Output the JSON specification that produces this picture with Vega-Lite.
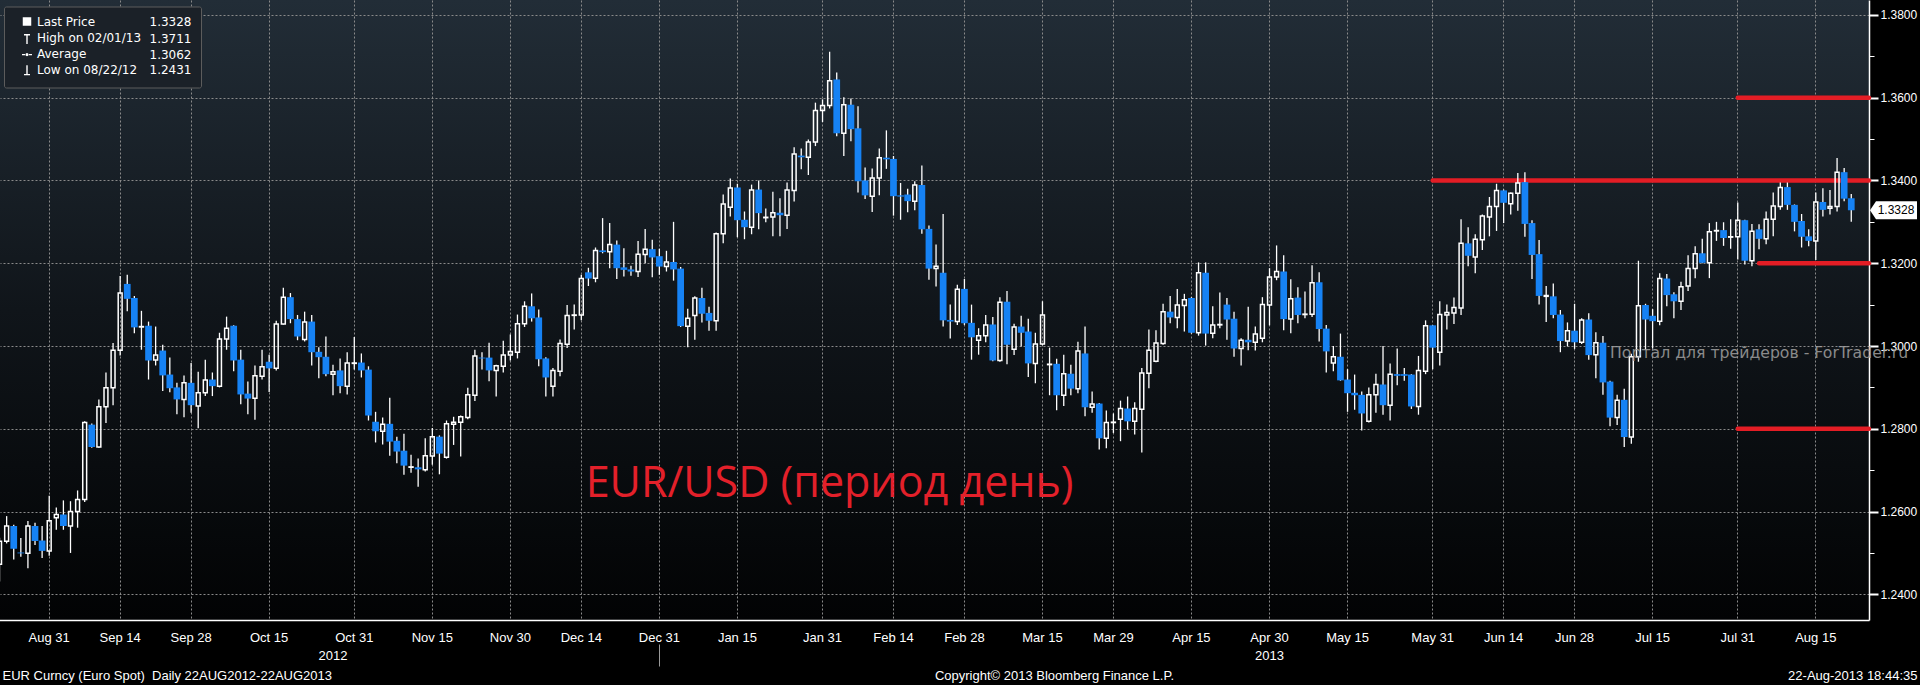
{
"$schema": "https://vega.github.io/schema/vega-lite/v6.json",
"width": 1869, "height": 620,
"autosize": {"type": "none"},
"padding": {"left": 0, "top": 0, "right": 51, "bottom": 65},
"background": "#000000",
"config": {
  "view": {"stroke": null, "fill": {"gradient": "linear", "x1": 0, "y1": 0, "x2": 0, "y2": 1, "stops": [{"offset": 0, "color": "#222d37"}, {"offset": 0.5, "color": "#10151a"}, {"offset": 1, "color": "#020304"}]}},
  "axis": {"labelFont": "Liberation Sans Narrow, Arial Narrow, Liberation Sans", "titleFont": "Liberation Sans Narrow, Arial Narrow, Liberation Sans", "titleFontWeight": "normal"}
},
"data": {"values": [
{"date":"2012-08-22","open":1.2473,"high":1.2537,"low":1.2431,"close":1.2528},
{"date":"2012-08-23","open":1.2528,"high":1.2589,"low":1.2523,"close":1.2565},
{"date":"2012-08-24","open":1.2565,"high":1.2568,"low":1.2484,"close":1.2510},
{"date":"2012-08-27","open":1.2501,"high":1.2536,"low":1.2491,"close":1.2499},
{"date":"2012-08-28","open":1.2499,"high":1.2577,"low":1.2463,"close":1.2565},
{"date":"2012-08-29","open":1.2565,"high":1.2573,"low":1.2519,"close":1.2529},
{"date":"2012-08-30","open":1.2530,"high":1.2565,"low":1.2488,"close":1.2505},
{"date":"2012-08-31","open":1.2505,"high":1.2638,"low":1.2493,"close":1.2578},
{"date":"2012-09-03","open":1.2585,"high":1.2610,"low":1.2556,"close":1.2593},
{"date":"2012-09-04","open":1.2593,"high":1.2627,"low":1.2556,"close":1.2565},
{"date":"2012-09-05","open":1.2565,"high":1.2625,"low":1.2500,"close":1.2600},
{"date":"2012-09-06","open":1.2600,"high":1.2651,"low":1.2561,"close":1.2629},
{"date":"2012-09-07","open":1.2629,"high":1.2818,"low":1.2623,"close":1.2815},
{"date":"2012-09-10","open":1.2810,"high":1.2813,"low":1.2754,"close":1.2756},
{"date":"2012-09-11","open":1.2756,"high":1.2871,"low":1.2754,"close":1.2853},
{"date":"2012-09-12","open":1.2853,"high":1.2936,"low":1.2814,"close":1.2899},
{"date":"2012-09-13","open":1.2899,"high":1.3007,"low":1.2857,"close":1.2990},
{"date":"2012-09-14","open":1.2990,"high":1.3169,"low":1.2977,"close":1.3128},
{"date":"2012-09-17","open":1.3150,"high":1.3172,"low":1.3084,"close":1.3114},
{"date":"2012-09-18","open":1.3116,"high":1.3121,"low":1.3031,"close":1.3045},
{"date":"2012-09-19","open":1.3046,"high":1.3085,"low":1.2991,"close":1.3047},
{"date":"2012-09-20","open":1.3049,"high":1.3059,"low":1.2919,"close":1.2965},
{"date":"2012-09-21","open":1.2966,"high":1.3047,"low":1.2953,"close":1.2978},
{"date":"2012-09-24","open":1.2989,"high":1.3003,"low":1.2891,"close":1.2929},
{"date":"2012-09-25","open":1.2931,"high":1.2972,"low":1.2888,"close":1.2898},
{"date":"2012-09-26","open":1.2900,"high":1.2911,"low":1.2835,"close":1.2871},
{"date":"2012-09-27","open":1.2871,"high":1.2929,"low":1.2828,"close":1.2911},
{"date":"2012-09-28","open":1.2911,"high":1.2959,"low":1.2839,"close":1.2857},
{"date":"2012-10-01","open":1.2855,"high":1.2938,"low":1.2801,"close":1.2887},
{"date":"2012-10-02","open":1.2887,"high":1.2967,"low":1.2879,"close":1.2918},
{"date":"2012-10-03","open":1.2919,"high":1.2936,"low":1.2879,"close":1.2903},
{"date":"2012-10-04","open":1.2903,"high":1.3032,"low":1.2900,"close":1.3017},
{"date":"2012-10-05","open":1.3017,"high":1.3071,"low":1.2991,"close":1.3043},
{"date":"2012-10-08","open":1.3049,"high":1.3050,"low":1.2939,"close":1.2965},
{"date":"2012-10-09","open":1.2967,"high":1.2991,"low":1.2859,"close":1.2883},
{"date":"2012-10-10","open":1.2885,"high":1.2914,"low":1.2835,"close":1.2873},
{"date":"2012-10-11","open":1.2874,"high":1.2953,"low":1.2822,"close":1.2928},
{"date":"2012-10-12","open":1.2927,"high":1.2991,"low":1.2919,"close":1.2950},
{"date":"2012-10-15","open":1.2962,"high":1.2979,"low":1.2889,"close":1.2946},
{"date":"2012-10-16","open":1.2946,"high":1.3061,"low":1.2941,"close":1.3053},
{"date":"2012-10-17","open":1.3053,"high":1.3141,"low":1.3052,"close":1.3118},
{"date":"2012-10-18","open":1.3118,"high":1.3128,"low":1.3055,"close":1.3065},
{"date":"2012-10-19","open":1.3065,"high":1.3075,"low":1.3014,"close":1.3023},
{"date":"2012-10-22","open":1.3016,"high":1.3083,"low":1.3011,"close":1.3058},
{"date":"2012-10-23","open":1.3059,"high":1.3075,"low":1.2953,"close":1.2985},
{"date":"2012-10-24","open":1.2986,"high":1.2997,"low":1.2922,"close":1.2973},
{"date":"2012-10-25","open":1.2974,"high":1.3023,"low":1.2927,"close":1.2932},
{"date":"2012-10-26","open":1.2932,"high":1.2955,"low":1.2881,"close":1.2938},
{"date":"2012-10-29","open":1.2941,"high":1.2970,"low":1.2886,"close":1.2903},
{"date":"2012-10-30","open":1.2903,"high":1.2985,"low":1.2883,"close":1.2959},
{"date":"2012-10-31","open":1.2958,"high":1.3022,"low":1.2943,"close":1.2959},
{"date":"2012-11-01","open":1.2960,"high":1.2982,"low":1.2924,"close":1.2941},
{"date":"2012-11-02","open":1.2943,"high":1.2951,"low":1.2820,"close":1.2832},
{"date":"2012-11-05","open":1.2817,"high":1.2841,"low":1.2767,"close":1.2794},
{"date":"2012-11-06","open":1.2794,"high":1.2827,"low":1.2762,"close":1.2811},
{"date":"2012-11-07","open":1.2812,"high":1.2875,"low":1.2735,"close":1.2769},
{"date":"2012-11-08","open":1.2771,"high":1.2781,"low":1.2717,"close":1.2745},
{"date":"2012-11-09","open":1.2747,"high":1.2788,"low":1.2689,"close":1.2711},
{"date":"2012-11-12","open":1.2707,"high":1.2737,"low":1.2694,"close":1.2708},
{"date":"2012-11-13","open":1.2707,"high":1.2728,"low":1.2660,"close":1.2702},
{"date":"2012-11-14","open":1.2701,"high":1.2777,"low":1.2697,"close":1.2735},
{"date":"2012-11-15","open":1.2734,"high":1.2802,"low":1.2713,"close":1.2781},
{"date":"2012-11-16","open":1.2781,"high":1.2784,"low":1.2690,"close":1.2740},
{"date":"2012-11-19","open":1.2731,"high":1.2820,"low":1.2728,"close":1.2812},
{"date":"2012-11-20","open":1.2811,"high":1.2829,"low":1.2761,"close":1.2816},
{"date":"2012-11-21","open":1.2816,"high":1.2832,"low":1.2733,"close":1.2829},
{"date":"2012-11-22","open":1.2827,"high":1.2899,"low":1.2823,"close":1.2882},
{"date":"2012-11-23","open":1.2881,"high":1.2991,"low":1.2867,"close":1.2976},
{"date":"2012-11-26","open":1.2972,"high":1.2985,"low":1.2943,"close":1.2970},
{"date":"2012-11-27","open":1.2972,"high":1.3008,"low":1.2915,"close":1.2941},
{"date":"2012-11-28","open":1.2941,"high":1.2955,"low":1.2878,"close":1.2952},
{"date":"2012-11-29","open":1.2951,"high":1.3013,"low":1.2936,"close":1.2978},
{"date":"2012-11-30","open":1.2978,"high":1.3028,"low":1.2965,"close":1.2987},
{"date":"2012-12-03","open":1.2985,"high":1.3076,"low":1.2970,"close":1.3054},
{"date":"2012-12-04","open":1.3054,"high":1.3108,"low":1.3046,"close":1.3096},
{"date":"2012-12-05","open":1.3096,"high":1.3127,"low":1.3059,"close":1.3067},
{"date":"2012-12-06","open":1.3069,"high":1.3088,"low":1.2951,"close":1.2968},
{"date":"2012-12-07","open":1.2970,"high":1.2973,"low":1.2878,"close":1.2924},
{"date":"2012-12-10","open":1.2903,"high":1.2947,"low":1.2878,"close":1.2941},
{"date":"2012-12-11","open":1.2939,"high":1.3016,"low":1.2927,"close":1.3006},
{"date":"2012-12-12","open":1.3004,"high":1.3099,"low":1.2995,"close":1.3074},
{"date":"2012-12-13","open":1.3074,"high":1.3100,"low":1.3040,"close":1.3075},
{"date":"2012-12-14","open":1.3075,"high":1.3172,"low":1.3062,"close":1.3163},
{"date":"2012-12-17","open":1.3178,"high":1.3189,"low":1.3145,"close":1.3163},
{"date":"2012-12-18","open":1.3164,"high":1.3238,"low":1.3154,"close":1.3231},
{"date":"2012-12-19","open":1.3231,"high":1.3309,"low":1.3224,"close":1.3227},
{"date":"2012-12-20","open":1.3228,"high":1.3297,"low":1.3188,"close":1.3245},
{"date":"2012-12-21","open":1.3245,"high":1.3255,"low":1.3162,"close":1.3188},
{"date":"2012-12-24","open":1.3190,"high":1.3236,"low":1.3168,"close":1.3184},
{"date":"2012-12-25","open":1.3185,"high":1.3194,"low":1.3170,"close":1.3180},
{"date":"2012-12-26","open":1.3180,"high":1.3254,"low":1.3167,"close":1.3222},
{"date":"2012-12-27","open":1.3221,"high":1.3283,"low":1.3200,"close":1.3234},
{"date":"2012-12-28","open":1.3234,"high":1.3257,"low":1.3166,"close":1.3214},
{"date":"2012-12-31","open":1.3217,"high":1.3235,"low":1.3172,"close":1.3192},
{"date":"2013-01-01","open":1.3192,"high":1.3230,"low":1.3180,"close":1.3203},
{"date":"2013-01-02","open":1.3203,"high":1.3300,"low":1.3158,"close":1.3185},
{"date":"2013-01-03","open":1.3187,"high":1.3191,"low":1.3046,"close":1.3048},
{"date":"2013-01-04","open":1.3048,"high":1.3090,"low":1.2997,"close":1.3067},
{"date":"2013-01-07","open":1.3074,"high":1.3120,"low":1.3015,"close":1.3116},
{"date":"2013-01-08","open":1.3116,"high":1.3141,"low":1.3057,"close":1.3078},
{"date":"2013-01-09","open":1.3080,"high":1.3095,"low":1.3037,"close":1.3061},
{"date":"2013-01-10","open":1.3061,"high":1.3274,"low":1.3037,"close":1.3271},
{"date":"2013-01-11","open":1.3271,"high":1.3366,"low":1.3248,"close":1.3343},
{"date":"2013-01-14","open":1.3335,"high":1.3405,"low":1.3313,"close":1.3382},
{"date":"2013-01-15","open":1.3383,"high":1.3392,"low":1.3263,"close":1.3304},
{"date":"2013-01-16","open":1.3305,"high":1.3325,"low":1.3258,"close":1.3287},
{"date":"2013-01-17","open":1.3287,"high":1.3390,"low":1.3270,"close":1.3377},
{"date":"2013-01-18","open":1.3378,"high":1.3400,"low":1.3282,"close":1.3321},
{"date":"2013-01-21","open":1.3310,"high":1.3332,"low":1.3299,"close":1.3311},
{"date":"2013-01-22","open":1.3312,"high":1.3373,"low":1.3265,"close":1.3322},
{"date":"2013-01-23","open":1.3322,"high":1.3357,"low":1.3265,"close":1.3316},
{"date":"2013-01-24","open":1.3316,"high":1.3395,"low":1.3283,"close":1.3377},
{"date":"2013-01-25","open":1.3376,"high":1.3480,"low":1.3349,"close":1.3464},
{"date":"2013-01-28","open":1.3460,"high":1.3477,"low":1.3427,"close":1.3456},
{"date":"2013-01-29","open":1.3456,"high":1.3499,"low":1.3413,"close":1.3493},
{"date":"2013-01-30","open":1.3493,"high":1.3588,"low":1.3483,"close":1.3569},
{"date":"2013-01-31","open":1.3569,"high":1.3596,"low":1.3541,"close":1.3581},
{"date":"2013-02-01","open":1.3581,"high":1.3711,"low":1.3574,"close":1.3641},
{"date":"2013-02-04","open":1.3644,"high":1.3661,"low":1.3507,"close":1.3514},
{"date":"2013-02-05","open":1.3514,"high":1.3601,"low":1.3459,"close":1.3583},
{"date":"2013-02-06","open":1.3583,"high":1.3598,"low":1.3495,"close":1.3524},
{"date":"2013-02-07","open":1.3526,"high":1.3579,"low":1.3371,"close":1.3398},
{"date":"2013-02-08","open":1.3400,"high":1.3431,"low":1.3355,"close":1.3364},
{"date":"2013-02-11","open":1.3362,"high":1.3429,"low":1.3324,"close":1.3406},
{"date":"2013-02-12","open":1.3406,"high":1.3477,"low":1.3364,"close":1.3455},
{"date":"2013-02-13","open":1.3455,"high":1.3521,"low":1.3428,"close":1.3451},
{"date":"2013-02-14","open":1.3452,"high":1.3459,"low":1.3315,"close":1.3362},
{"date":"2013-02-15","open":1.3364,"high":1.3394,"low":1.3305,"close":1.3361},
{"date":"2013-02-18","open":1.3366,"high":1.3380,"low":1.3323,"close":1.3350},
{"date":"2013-02-19","open":1.3350,"high":1.3398,"low":1.3328,"close":1.3389},
{"date":"2013-02-20","open":1.3389,"high":1.3436,"low":1.3271,"close":1.3282},
{"date":"2013-02-21","open":1.3283,"high":1.3291,"low":1.3160,"close":1.3187},
{"date":"2013-02-22","open":1.3187,"high":1.3245,"low":1.3144,"close":1.3193},
{"date":"2013-02-25","open":1.3177,"high":1.3319,"low":1.3047,"close":1.3062},
{"date":"2013-02-26","open":1.3063,"high":1.3100,"low":1.3018,"close":1.3059},
{"date":"2013-02-27","open":1.3059,"high":1.3148,"low":1.3051,"close":1.3137},
{"date":"2013-02-28","open":1.3138,"high":1.3162,"low":1.3051,"close":1.3055},
{"date":"2013-03-01","open":1.3056,"high":1.3100,"low":1.2967,"close":1.3021},
{"date":"2013-03-04","open":1.3014,"high":1.3043,"low":1.2979,"close":1.3025},
{"date":"2013-03-05","open":1.3025,"high":1.3075,"low":1.3009,"close":1.3051},
{"date":"2013-03-06","open":1.3052,"high":1.3070,"low":1.2963,"close":1.2965},
{"date":"2013-03-07","open":1.2965,"high":1.3118,"low":1.2962,"close":1.3106},
{"date":"2013-03-08","open":1.3107,"high":1.3133,"low":1.2956,"close":1.3003},
{"date":"2013-03-11","open":1.2992,"high":1.3054,"low":1.2978,"close":1.3046},
{"date":"2013-03-12","open":1.3047,"high":1.3073,"low":1.2999,"close":1.3032},
{"date":"2013-03-13","open":1.3035,"high":1.3066,"low":1.2925,"close":1.2958},
{"date":"2013-03-14","open":1.2958,"high":1.3032,"low":1.2910,"close":1.3005},
{"date":"2013-03-15","open":1.3005,"high":1.3108,"low":1.3002,"close":1.3075},
{"date":"2013-03-18","open":1.2955,"high":1.2996,"low":1.2881,"close":1.2956},
{"date":"2013-03-19","open":1.2957,"high":1.2969,"low":1.2845,"close":1.2881},
{"date":"2013-03-20","open":1.2881,"high":1.2979,"low":1.2855,"close":1.2933},
{"date":"2013-03-21","open":1.2933,"high":1.2955,"low":1.2881,"close":1.2897},
{"date":"2013-03-22","open":1.2897,"high":1.3010,"low":1.2886,"close":1.2988},
{"date":"2013-03-25","open":1.2982,"high":1.3047,"low":1.2830,"close":1.2852},
{"date":"2013-03-26","open":1.2852,"high":1.2890,"low":1.2839,"close":1.2860},
{"date":"2013-03-27","open":1.2861,"high":1.2862,"low":1.2750,"close":1.2777},
{"date":"2013-03-28","open":1.2777,"high":1.2844,"low":1.2753,"close":1.2815},
{"date":"2013-03-29","open":1.2815,"high":1.2837,"low":1.2790,"close":1.2816},
{"date":"2013-04-01","open":1.2823,"high":1.2868,"low":1.2770,"close":1.2849},
{"date":"2013-04-02","open":1.2849,"high":1.2878,"low":1.2798,"close":1.2818},
{"date":"2013-04-03","open":1.2818,"high":1.2864,"low":1.2786,"close":1.2849},
{"date":"2013-04-04","open":1.2847,"high":1.2947,"low":1.2743,"close":1.2935},
{"date":"2013-04-05","open":1.2934,"high":1.3040,"low":1.2898,"close":1.2990},
{"date":"2013-04-08","open":1.2963,"high":1.3038,"low":1.2961,"close":1.3007},
{"date":"2013-04-09","open":1.3006,"high":1.3102,"low":1.3003,"close":1.3083},
{"date":"2013-04-10","open":1.3083,"high":1.3121,"low":1.3055,"close":1.3069},
{"date":"2013-04-11","open":1.3069,"high":1.3138,"low":1.3043,"close":1.3099},
{"date":"2013-04-12","open":1.3098,"high":1.3126,"low":1.3035,"close":1.3112},
{"date":"2013-04-15","open":1.3116,"high":1.3118,"low":1.3030,"close":1.3032},
{"date":"2013-04-16","open":1.3032,"high":1.3202,"low":1.3025,"close":1.3177},
{"date":"2013-04-17","open":1.3177,"high":1.3202,"low":1.3001,"close":1.3030},
{"date":"2013-04-18","open":1.3031,"high":1.3096,"low":1.3019,"close":1.3051},
{"date":"2013-04-19","open":1.3051,"high":1.3129,"low":1.3043,"close":1.3052},
{"date":"2013-04-22","open":1.3100,"high":1.3116,"low":1.3015,"close":1.3064},
{"date":"2013-04-23","open":1.3066,"high":1.3083,"low":1.2974,"close":1.2994},
{"date":"2013-04-24","open":1.2994,"high":1.3019,"low":1.2953,"close":1.3014},
{"date":"2013-04-25","open":1.3015,"high":1.3095,"low":1.2990,"close":1.3009},
{"date":"2013-04-26","open":1.3009,"high":1.3047,"low":1.2989,"close":1.3029},
{"date":"2013-04-29","open":1.3019,"high":1.3118,"low":1.3009,"close":1.3100},
{"date":"2013-04-30","open":1.3099,"high":1.3188,"low":1.3050,"close":1.3167},
{"date":"2013-05-01","open":1.3167,"high":1.3243,"low":1.3159,"close":1.3180},
{"date":"2013-05-02","open":1.3180,"high":1.3219,"low":1.3038,"close":1.3065},
{"date":"2013-05-03","open":1.3065,"high":1.3161,"low":1.3031,"close":1.3114},
{"date":"2013-05-06","open":1.3117,"high":1.3142,"low":1.3055,"close":1.3075},
{"date":"2013-05-07","open":1.3076,"high":1.3132,"low":1.3067,"close":1.3077},
{"date":"2013-05-08","open":1.3077,"high":1.3195,"low":1.3070,"close":1.3153},
{"date":"2013-05-09","open":1.3154,"high":1.3178,"low":1.3011,"close":1.3041},
{"date":"2013-05-10","open":1.3042,"high":1.3051,"low":1.2936,"close":1.2987},
{"date":"2013-05-13","open":1.2959,"high":1.3000,"low":1.2939,"close":1.2974},
{"date":"2013-05-14","open":1.2974,"high":1.3030,"low":1.2916,"close":1.2917},
{"date":"2013-05-15","open":1.2919,"high":1.2944,"low":1.2841,"close":1.2886},
{"date":"2013-05-16","open":1.2887,"high":1.2931,"low":1.2846,"close":1.2881},
{"date":"2013-05-17","open":1.2882,"high":1.2890,"low":1.2796,"close":1.2837},
{"date":"2013-05-20","open":1.2818,"high":1.2900,"low":1.2815,"close":1.2882},
{"date":"2013-05-21","open":1.2882,"high":1.2933,"low":1.2839,"close":1.2907},
{"date":"2013-05-22","open":1.2907,"high":1.3000,"low":1.2834,"close":1.2857},
{"date":"2013-05-23","open":1.2857,"high":1.2958,"low":1.2820,"close":1.2932},
{"date":"2013-05-24","open":1.2932,"high":1.2994,"low":1.2905,"close":1.2928},
{"date":"2013-05-27","open":1.2932,"high":1.2947,"low":1.2916,"close":1.2928},
{"date":"2013-05-28","open":1.2931,"high":1.2932,"low":1.2848,"close":1.2854},
{"date":"2013-05-29","open":1.2854,"high":1.2976,"low":1.2834,"close":1.2941},
{"date":"2013-05-30","open":1.2939,"high":1.3062,"low":1.2932,"close":1.3049},
{"date":"2013-05-31","open":1.3050,"high":1.3051,"low":1.2944,"close":1.2996},
{"date":"2013-06-03","open":1.2985,"high":1.3108,"low":1.2953,"close":1.3076},
{"date":"2013-06-04","open":1.3075,"high":1.3100,"low":1.3040,"close":1.3081},
{"date":"2013-06-05","open":1.3080,"high":1.3117,"low":1.3053,"close":1.3093},
{"date":"2013-06-06","open":1.3092,"high":1.3306,"low":1.3075,"close":1.3248},
{"date":"2013-06-07","open":1.3248,"high":1.3287,"low":1.3193,"close":1.3218},
{"date":"2013-06-10","open":1.3215,"high":1.3270,"low":1.3176,"close":1.3258},
{"date":"2013-06-11","open":1.3257,"high":1.3318,"low":1.3232,"close":1.3314},
{"date":"2013-06-12","open":1.3312,"high":1.3360,"low":1.3265,"close":1.3337},
{"date":"2013-06-13","open":1.3337,"high":1.3392,"low":1.3278,"close":1.3376},
{"date":"2013-06-14","open":1.3376,"high":1.3378,"low":1.3297,"close":1.3346},
{"date":"2013-06-17","open":1.3344,"high":1.3371,"low":1.3318,"close":1.3369},
{"date":"2013-06-18","open":1.3369,"high":1.3418,"low":1.3327,"close":1.3394},
{"date":"2013-06-19","open":1.3396,"high":1.3420,"low":1.3264,"close":1.3295},
{"date":"2013-06-20","open":1.3297,"high":1.3304,"low":1.3162,"close":1.3220},
{"date":"2013-06-21","open":1.3222,"high":1.3256,"low":1.3100,"close":1.3121},
{"date":"2013-06-24","open":1.3120,"high":1.3145,"low":1.3058,"close":1.3122},
{"date":"2013-06-25","open":1.3120,"high":1.3151,"low":1.3067,"close":1.3075},
{"date":"2013-06-26","open":1.3076,"high":1.3087,"low":1.2985,"close":1.3012},
{"date":"2013-06-27","open":1.3012,"high":1.3057,"low":1.2999,"close":1.3037},
{"date":"2013-06-28","open":1.3037,"high":1.3102,"low":1.2993,"close":1.3009},
{"date":"2013-07-01","open":1.3009,"high":1.3067,"low":1.3005,"close":1.3063},
{"date":"2013-07-02","open":1.3064,"high":1.3079,"low":1.2967,"close":1.2978},
{"date":"2013-07-03","open":1.2979,"high":1.3033,"low":1.2922,"close":1.3008},
{"date":"2013-07-04","open":1.3008,"high":1.3024,"low":1.2882,"close":1.2912},
{"date":"2013-07-05","open":1.2914,"high":1.2916,"low":1.2806,"close":1.2827},
{"date":"2013-07-08","open":1.2827,"high":1.2882,"low":1.2809,"close":1.2869},
{"date":"2013-07-09","open":1.2870,"high":1.2897,"low":1.2756,"close":1.2780},
{"date":"2013-07-10","open":1.2780,"high":1.2981,"low":1.2764,"close":1.2974},
{"date":"2013-07-11","open":1.2974,"high":1.3206,"low":1.2962,"close":1.3097},
{"date":"2013-07-12","open":1.3099,"high":1.3102,"low":1.2991,"close":1.3064},
{"date":"2013-07-15","open":1.3073,"high":1.3089,"low":1.2994,"close":1.3060},
{"date":"2013-07-16","open":1.3060,"high":1.3176,"low":1.3050,"close":1.3163},
{"date":"2013-07-17","open":1.3163,"high":1.3174,"low":1.3096,"close":1.3123},
{"date":"2013-07-18","open":1.3125,"high":1.3130,"low":1.3067,"close":1.3108},
{"date":"2013-07-19","open":1.3108,"high":1.3155,"low":1.3087,"close":1.3143},
{"date":"2013-07-22","open":1.3145,"high":1.3219,"low":1.3133,"close":1.3187},
{"date":"2013-07-23","open":1.3187,"high":1.3241,"low":1.3164,"close":1.3223},
{"date":"2013-07-24","open":1.3224,"high":1.3259,"low":1.3200,"close":1.3201},
{"date":"2013-07-25","open":1.3201,"high":1.3297,"low":1.3164,"close":1.3276},
{"date":"2013-07-26","open":1.3278,"high":1.3300,"low":1.3254,"close":1.3279},
{"date":"2013-07-29","open":1.3280,"high":1.3299,"low":1.3242,"close":1.3261},
{"date":"2013-07-30","open":1.3263,"high":1.3306,"low":1.3235,"close":1.3264},
{"date":"2013-07-31","open":1.3264,"high":1.3347,"low":1.3209,"close":1.3304},
{"date":"2013-08-01","open":1.3304,"high":1.3305,"low":1.3197,"close":1.3206},
{"date":"2013-08-02","open":1.3206,"high":1.3295,"low":1.3193,"close":1.3277},
{"date":"2013-08-05","open":1.3282,"high":1.3294,"low":1.3234,"close":1.3259},
{"date":"2013-08-06","open":1.3259,"high":1.3325,"low":1.3246,"close":1.3306},
{"date":"2013-08-07","open":1.3306,"high":1.3371,"low":1.3265,"close":1.3338},
{"date":"2013-08-08","open":1.3337,"high":1.3395,"low":1.3329,"close":1.3383},
{"date":"2013-08-09","open":1.3384,"high":1.3395,"low":1.3329,"close":1.3341},
{"date":"2013-08-12","open":1.3341,"high":1.3342,"low":1.3277,"close":1.3300},
{"date":"2013-08-13","open":1.3302,"high":1.3319,"low":1.3238,"close":1.3264},
{"date":"2013-08-14","open":1.3265,"high":1.3282,"low":1.3241,"close":1.3254},
{"date":"2013-08-15","open":1.3254,"high":1.3371,"low":1.3208,"close":1.3348},
{"date":"2013-08-16","open":1.3348,"high":1.3381,"low":1.3313,"close":1.3329},
{"date":"2013-08-19","open":1.3333,"high":1.3377,"low":1.3318,"close":1.3337},
{"date":"2013-08-20","open":1.3337,"high":1.3454,"low":1.3325,"close":1.3420},
{"date":"2013-08-21","open":1.3420,"high":1.3430,"low":1.3350,"close":1.3356},
{"date":"2013-08-22","open":1.3357,"high":1.3367,"low":1.3300,"close":1.3328}
]},
"resolve": {"axis": {"x": "independent", "y": "independent"}},
"layer": [
{
  "data": {"values": [
    {"start": "2013-07-31", "level": 1.36},
    {"start": "2013-05-31", "level": 1.34},
    {"start": "2013-08-05", "level": 1.32},
    {"start": "2013-07-31", "level": 1.28}
  ]},
  "mark": {"type": "rule", "color": "#e31d25", "strokeWidth": 4.5, "strokeCap": "round"},
  "encoding": {
    "x": {"field": "start", "type": "ordinal", "axis": null},
    "x2": {"value": "width"},
    "y": {"field": "level", "type": "quantitative", "axis": null}
  }
},
{
  "transform": [{"filter": "datum.close < datum.open"}],
  "mark": {"type": "rule", "color": "#ffffff", "strokeWidth": 1.3},
  "encoding": {
    "x": {"field": "date", "type": "ordinal",
      "scale": {"type": "band", "paddingInner": 0, "paddingOuter": 1.575, "align": 0, "range": [-4, 1869]},
      "axis": {
        "orient": "bottom",
        "values": ["2012-08-31","2012-09-14","2012-09-28","2012-10-15","2012-10-31","2012-11-15","2012-11-30","2012-12-14","2012-12-31","2013-01-15","2013-01-31","2013-02-14","2013-02-28","2013-03-15","2013-03-29","2013-04-15","2013-04-30","2013-05-15","2013-05-31","2013-06-14","2013-06-28","2013-07-15","2013-07-31","2013-08-15"],
        "labelExpr": "utcFormat(toDate(datum.value), '%b %d')",
        "labelAngle": 0, "labelColor": "#ffffff", "labelFontSize": 13, "labelPadding": 11, "labelOverlap": false,
        "grid": true, "gridColor": "#8a8a8a", "gridDash": [2, 2], "gridWidth": 1,
        "domain": true, "domainColor": "#ffffff", "domainWidth": 1.5,
        "ticks": false,
        "title": "EUR Curncy (Euro Spot)\u00a0 Daily 22AUG2012-22AUG2013",
        "titleX": 2, "titleY": 55, "titleAlign": "left", "titleBaseline": "middle", "titleAnchor": "start",
        "titleColor": "#ffffff", "titleFontSize": 13
      }
    },
    "y": {"field": "high", "type": "quantitative",
      "scale": {"domain": [1.2338, 1.3836], "nice": false, "zero": false},
      "axis": {
        "orient": "right",
        "values": [1.24, 1.26, 1.28, 1.30, 1.32, 1.34, 1.36, 1.38],
        "format": ".4f",
        "grid": true, "gridColor": "#8a8a8a", "gridDash": [2, 2], "gridWidth": 1,
        "domain": true, "domainColor": "#ffffff", "domainWidth": 1.5,
        "ticks": true, "tickSize": 9, "tickWidth": 2, "tickColor": "#ffffff",
        "labelColor": "#ffffff", "labelFont": "Liberation Sans", "labelFontSize": 12, "labelPadding": 2,
        "title": "22-Aug-2013 18:44:35",
        "titleAngle": 0, "titleX": 48, "titleY": 675, "titleAlign": "right", "titleBaseline": "middle",
        "titleColor": "#ffffff", "titleFontSize": 13
      }
    },
    "y2": {"field": "low"}
  }
},
{
  "transform": [{"filter": "datum.close >= datum.open"}],
  "mark": {"type": "rule", "color": "#ffffff", "strokeWidth": 1.3},
  "encoding": {
    "x": {"field": "date", "type": "ordinal",
      "axis": {
        "orient": "bottom", "offset": 24,
        "values": ["2012-10-26", "2012-12-31", "2013-04-30"],
        "labelExpr": "datum.value == '2012-12-31' ? '' : slice(datum.value, 0, 4)",
        "labelAngle": 0, "labelColor": "#ffffff", "labelFontSize": 13, "labelPadding": -17, "labelOverlap": false,
        "grid": false, "domain": false,
        "ticks": true, "tickSize": 22, "tickWidth": 1,
        "tickColor": {"condition": {"test": "datum.value == '2012-12-31'", "value": "#9a9a9a"}, "value": "transparent"},
        "title": "Copyright\u00a9 2013 Bloomberg Finance L.P.",
        "titleX": 1054, "titleY": 31, "titleAlign": "center", "titleBaseline": "middle",
        "titleColor": "#ffffff", "titleFontSize": 13
      }
    },
    "y": {"field": "high", "type": "quantitative",
      "axis": {
        "orient": "right",
        "values": [1.25, 1.27, 1.29, 1.31, 1.33, 1.35, 1.37],
        "labels": false, "grid": false, "domain": false,
        "ticks": true, "tickSize": 5, "tickWidth": 1, "tickColor": "#ffffff",
        "title": null
      }
    },
    "y2": {"field": "close"}
  }
},
{
  "transform": [{"filter": "datum.close >= datum.open"}],
  "mark": {"type": "rule", "color": "#ffffff", "strokeWidth": 1.3},
  "encoding": {
    "x": {"field": "date", "type": "ordinal", "axis": null},
    "y": {"field": "open", "type": "quantitative", "axis": null},
    "y2": {"field": "low"}
  }
},
{
  "transform": [{"filter": "datum.close < datum.open"}],
  "mark": {"type": "bar", "color": "#1682f4", "width": {"band": 0.95}},
  "encoding": {
    "x": {"field": "date", "type": "ordinal", "axis": null},
    "y": {"field": "open", "type": "quantitative", "axis": null},
    "y2": {"field": "close"}
  }
},
{
  "transform": [{"filter": "datum.close >= datum.open"}],
  "mark": {"type": "bar", "filled": false, "color": "#ffffff", "strokeWidth": 1.5, "width": {"band": 0.55}},
  "encoding": {
    "x": {"field": "date", "type": "ordinal", "axis": null},
    "y": {"field": "open", "type": "quantitative", "axis": null},
    "y2": {"field": "close"}
  }
},
{
  "data": {"values": [
    {"name": "Last Price", "val": "1.3328", "value": 1.3328},
    {"name": "High on 02/01/13", "val": "1.3711", "value": 1.3711},
    {"name": "Average", "val": "1.3062", "value": 1.3062},
    {"name": "Low on 08/22/12", "val": "1.2431", "value": 1.2431}
  ]},
  "mark": {"type": "point", "filled": true, "opacity": 0, "size": 100},
  "encoding": {
    "y": {"field": "value", "type": "quantitative", "axis": null},
    "color": {"field": "val", "type": "nominal",
      "scale": {"domain": ["1.3328", "1.3711", "1.3062", "1.2431"], "range": ["#ffffff", "#ffffff", "#ffffff", "#ffffff"]},
      "legend": {"orient": "none", "legendX": 4, "legendY": 6.5, "title": null, "padding": 9,
        "fillColor": "#1b2128", "strokeColor": "#5c5c5c", "cornerRadius": 2,
        "symbolOffset": 8, "labelOffset": 116.5, "rowPadding": 1.6,
        "labelFont": "DejaVu Sans", "labelFontSize": 12, "labelColor": "#ffffff",
        "symbolSize": 100, "symbolOpacity": 1, "zindex": 1}
    },
    "shape": {"field": "val", "type": "nominal",
      "scale": {"domain": ["1.3328", "1.3711", "1.3062", "1.2431"], "range": [
        "M-0.85,-0.85L0.85,-0.85L0.85,0.85L-0.85,0.85Z",
        "M-0.6,-1L0.6,-1L0.6,-0.72L0.14,-0.72L0.14,1L-0.14,1L-0.14,-0.72L-0.6,-0.72Z",
        "M-1,-0.12L-0.4,-0.12L-0.4,0.12L-1,0.12Z M0.4,-0.12L1,-0.12L1,0.12L0.4,0.12Z M-0.32,0L-0.23,-0.23L0,-0.32L0.23,-0.23L0.32,0L0.23,0.23L0,0.32L-0.23,0.23Z",
        "M-0.14,-1L0.14,-1L0.14,0.72L0.6,0.72L0.6,1L-0.6,1L-0.6,0.72L-0.14,0.72Z"]},
      "legend": {"orient": "none", "legendX": 4, "legendY": 6.5, "title": null, "padding": 9,
        "fillColor": "#1b2128", "strokeColor": "#5c5c5c", "cornerRadius": 2,
        "symbolOffset": 8, "labelOffset": 116.5, "rowPadding": 1.6,
        "labelFont": "DejaVu Sans", "labelFontSize": 12, "labelColor": "#ffffff",
        "symbolSize": 100, "symbolOpacity": 1, "zindex": 1}
    },
    "strokeDash": {"field": "name", "type": "nominal",
      "scale": {"domain": ["Last Price", "High on 02/01/13", "Average", "Low on 08/22/12"]},
      "legend": {"orient": "none", "legendX": 25, "legendY": 15.5, "title": null, "padding": 0,
        "symbolSize": 0, "symbolOpacity": 0, "symbolOffset": 0, "labelOffset": 0, "rowPadding": 4,
        "labelFont": "DejaVu Sans", "labelFontSize": 12, "labelColor": "#ffffff", "zindex": 2}
    }
  }
},
{
  "data": {"values": [{"price": 1.3328, "label": "1.3328"}]},
  "mark": {"type": "point", "shape": "M0.1,0L0.7,-0.9L4.8,-0.9L4.8,0.9L0.7,0.9Z", "size": 400, "filled": true, "color": "#ffffff", "opacity": 1, "strokeWidth": 0},
  "encoding": {
    "x": {"value": "width"},
    "y": {"field": "price", "type": "quantitative", "axis": null}
  }
},
{
  "data": {"values": [{"price": 1.3328, "label": "1.3328"}]},
  "mark": {"type": "text", "align": "center", "baseline": "middle", "dx": 27, "font": "Liberation Sans", "fontSize": 12, "color": "#000000"},
  "encoding": {
    "x": {"value": "width"},
    "y": {"field": "price", "type": "quantitative", "axis": null},
    "text": {"field": "label"}
  }
},
{
  "data": {"values": [{"date": "2013-07-05", "price": 1.2983, "label": "Портал для трейдеров - ForTrader.ru"}]},
  "mark": {"type": "text", "align": "left", "baseline": "middle", "font": "DejaVu Sans", "fontSize": 15.7, "color": "#a0a0a0", "opacity": 0.85},
  "encoding": {
    "x": {"field": "date", "type": "ordinal", "axis": null},
    "y": {"field": "price", "type": "quantitative", "axis": null},
    "text": {"field": "label"}
  }
},
{
  "data": {"values": [{"date": "2013-02-01", "price": 1.2667, "label": "EUR/USD (период день)"}]},
  "mark": {"type": "text", "align": "center", "baseline": "middle", "font": "Open Sans", "fontSize": 43, "color": "#e3202a"},
  "encoding": {
    "x": {"field": "date", "type": "ordinal", "axis": null},
    "y": {"field": "price", "type": "quantitative", "axis": null},
    "text": {"field": "label"}
  }
}
]
}
